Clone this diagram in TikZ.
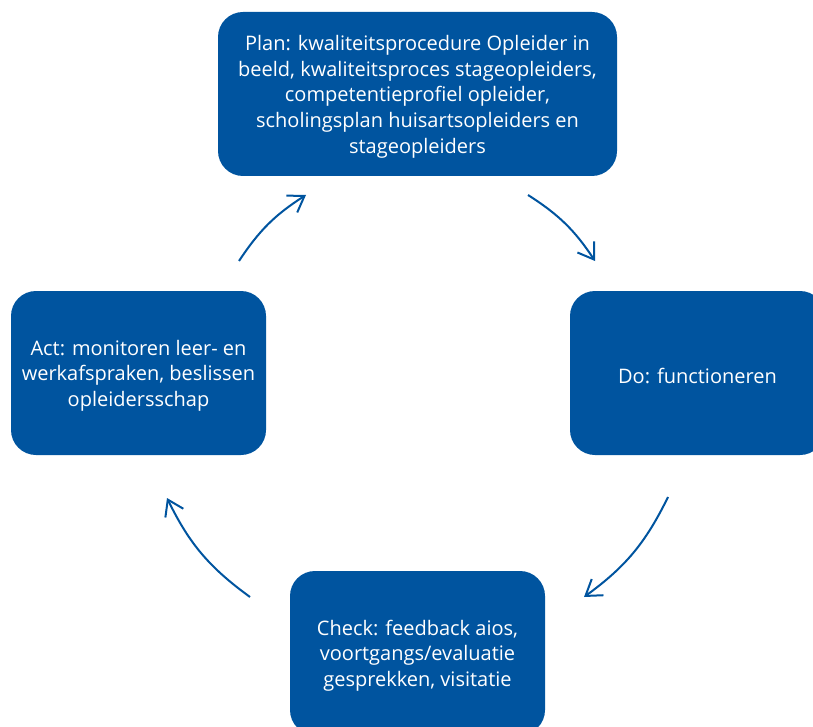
\documentclass[tikz,border=0pt]{standalone}
\usepackage{fontspec}
\setmainfont{Open Sans}
\usetikzlibrary{arrows.meta}
\definecolor{pdcablue}{RGB}{0,84,159}
% extra height on the first line of each label, lowering the text block a little
\newcommand{\phasestrut}{\rule{0pt}{20.5pt}}
\begin{document}
\begin{tikzpicture}[x=1pt,y=-1pt,
  phase/.style={fill=pdcablue, rounded corners=25pt, inner sep=0pt,
    minimum height=164pt, text=white, align=center,
    font=\fontsize{20}{25.7}\selectfont},
  cyclearrow/.style={draw=pdcablue, line width=2pt,
    -{Straight Barb[length=15pt,width=20pt,line width=2pt]}}]
  \useasboundingbox (0,0) rectangle (813,727);
  \clip (0,0) rectangle (813,727);

  % the four phases of the cycle
  \node[phase, minimum width=399pt] (plan) at (417.5,94)
    {\phasestrut Plan: kwaliteitsprocedure Opleider in\\beeld, kwaliteitsproces stageopleiders,\\competentieprofiel opleider,\\scholingsplan huisartsopleiders en\\stageopleiders};
  \node[phase, minimum width=255pt] (do) at (697.5,373) {\phasestrut Do: functioneren};
  \node[phase, minimum width=255pt] (check) at (417.5,653)
    {\phasestrut Check: feedback aios,\\voortgangs/evaluatie\\gesprekken, visitatie};
  \node[phase, minimum width=255pt] (act) at (138.5,373)
    {\phasestrut Act: monitoren leer- en\\werkafspraken, beslissen\\opleidersschap};

  % arrow end points between the phases
  \coordinate (a1s) at (239,261);  \coordinate (a1e) at (306,195);
  \coordinate (a2s) at (528,195);  \coordinate (a2e) at (595,261);
  \coordinate (a3s) at (668,497);  \coordinate (a3e) at (584,597);
  \coordinate (a4s) at (250,597);  \coordinate (a4e) at (167,498);

  \draw[cyclearrow] (a1s) to[bend left=12] (a1e);
  \draw[cyclearrow] (a2s) to[bend left=12] (a2e);
  \draw[cyclearrow] (a3s) to[bend left=14] (a3e);
  \draw[cyclearrow] (a4s) to[bend left=14] (a4e);
\end{tikzpicture}
\end{document}
